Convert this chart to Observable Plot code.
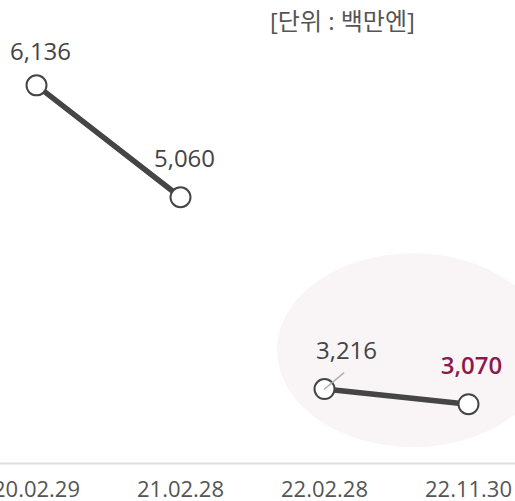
<!DOCTYPE html>
<html>
<head>
<meta charset="utf-8">
<script src="https://cdn.jsdelivr.net/npm/d3@7"></script>
<script src="https://cdn.jsdelivr.net/npm/@observablehq/plot@0.6"></script>
<style>
  html, body { margin: 0; padding: 0; background: #fff; }
  #wrap { position: relative; width: 515px; height: 501px; overflow: hidden; }
  #unit { position: absolute; left: 270px; top: 2px; font: 24px "Open Sans", "Noto Sans CJK KR", sans-serif; color: #555; white-space: nowrap; }
  #wrap svg { position: absolute; left: 0; top: 0; }
</style>
</head>
<body>
<div id="wrap"><div id="unit"></div></div>
<script>
const periods = ["20.02.29", "21.02.28", "22.02.28", "22.11.30"];
const values = [6136, 5060, 3216, 3070];
const segment = [0, 0, 1, 1];
const unitLabel = "[단위 : 백만엔]";

document.getElementById("unit").textContent = unitLabel;

const data = periods.map((p, i) => ({period: p, value: values[i], seg: segment[i], i}));
const fmt = d3.format(",");

const ellipse = (index, scales) => {
  const x3 = scales.x(periods[2]), x4 = scales.x(periods[3]);
  const y3 = scales.y(values[2]), y4 = scales.y(values[3]);
  const e = document.createElementNS("http://www.w3.org/2000/svg", "ellipse");
  e.setAttribute("cx", (x3 + x4) / 2 + 17);
  e.setAttribute("cy", (y3 + y4) / 2 - 46);
  e.setAttribute("rx", 136);
  e.setAttribute("ry", 97);
  e.setAttribute("fill", "#f9f5f6");
  const g = document.createElementNS("http://www.w3.org/2000/svg", "g");
  g.appendChild(e);
  return g;
};

const spike = {draw(context, l) { context.moveTo(0, 0); context.lineTo(0, -l); }};

const chart = Plot.plot({
  width: 515,
  height: 501,
  marginTop: 47,
  marginBottom: 38,
  marginLeft: 0,
  marginRight: 0,
  style: {fontFamily: "'Open Sans', sans-serif", background: "transparent", overflow: "visible"},
  x: {type: "point", domain: periods, range: [36, 468], padding: 0},
  y: {domain: [2500, 6500], axis: null},
  marks: [
    ellipse,
    Plot.frame({anchor: "bottom", stroke: "#dedede", strokeWidth: 2}),
    Plot.axisX({tickSize: 0, tickPadding: 18, fontSize: 22, fill: "#555", label: null}),
    Plot.line(data, {x: "period", y: "value", z: "seg", stroke: "#454545", strokeWidth: 5.5}),
    Plot.dot(data, {x: "period", y: "value", r: 10, fill: "#fff", stroke: "#454545", strokeWidth: 2}),
    Plot.vector(data.filter(d => d.i === 2), {x: "period", y: "value", length: 25, rotate: 50, anchor: "start", shape: spike, stroke: "#aaa", strokeWidth: 1.5}),
    Plot.text(data.filter(d => d.i === 0), {x: "period", y: "value", text: d => fmt(d.value), dx: 4, dy: -25, lineAnchor: "bottom", fontSize: 24, fill: "#444"}),
    Plot.text(data.filter(d => d.i === 1), {x: "period", y: "value", text: d => fmt(d.value), dx: 4, dy: -30, lineAnchor: "bottom", fontSize: 24, fill: "#444"}),
    Plot.text(data.filter(d => d.i === 2), {x: "period", y: "value", text: d => fmt(d.value), dx: 22, dy: -30, lineAnchor: "bottom", fontSize: 24, fill: "#444"}),
    Plot.text(data.filter(d => d.i === 3), {x: "period", y: "value", text: d => fmt(d.value), dx: 3, dy: -30, lineAnchor: "bottom", fontSize: 24, fontWeight: 600, fill: "#8a1a4b"})
  ]
});

document.getElementById("wrap").appendChild(chart);
</script>
</body>
</html>
